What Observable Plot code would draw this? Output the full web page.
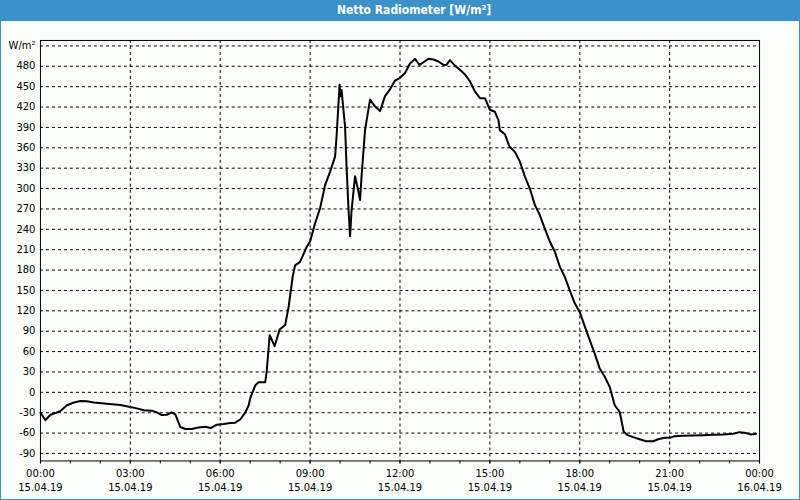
<!DOCTYPE html>
<html><head><meta charset="utf-8">
<script src="https://cdn.jsdelivr.net/npm/d3@7"></script>
<script src="https://cdn.jsdelivr.net/npm/@observablehq/plot@0.6"></script>
<style>
html,body{margin:0;padding:0;background:#fafdfa;}
#wrap{position:relative;width:800px;height:500px;box-sizing:border-box;border:1px solid #3c91c8;border-top:none;background:#fafdfa;overflow:hidden;}
#title{height:21px;background:#3c91c8;color:#fff;font:bold 12px "DejaVu Sans Condensed","DejaVu Sans",sans-serif;text-align:center;line-height:21px;padding-left:28px;}
#chart{position:absolute;left:-1px;top:21px;}
</style></head>
<body>
<div id="wrap"><div id="title">Netto Radiometer [W/m²]</div><div id="chart"></div></div>
<script>
const chartTitle = "Netto Radiometer [W/m²]";
const day = "2019-04-15";
const times = ["00:00","00:10","00:20","00:30","00:40","00:53","01:07","01:20","01:33","01:47","02:13","02:40","03:00","03:13","03:27","03:43","03:53","04:03","04:13","04:23","04:30","04:40","04:50","05:03","05:17","05:30","05:41","05:53","06:07","06:20","06:30","06:40","06:50","06:57","07:00","07:10","07:17","07:30","07:33","07:39","07:49","07:59","08:10","08:17","08:25","08:30","08:40","08:53","09:00","09:10","09:20","09:30","09:40","09:50","09:53","09:59","10:01","10:03","10:10","10:13","10:17","10:20","10:23","10:30","10:37","10:40","10:43","10:50","11:00","11:10","11:20","11:30","11:40","11:50","12:00","12:10","12:20","12:30","12:39","12:47","12:57","13:07","13:17","13:27","13:33","13:40","13:50","14:00","14:10","14:20","14:30","14:40","14:50","15:00","15:10","15:17","15:20","15:30","15:39","15:50","16:00","16:10","16:20","16:30","16:40","16:50","17:00","17:10","17:20","17:30","17:40","17:50","18:00","18:10","18:20","18:30","18:40","18:50","19:00","19:10","19:20","19:28","19:36","19:47","20:00","20:13","20:27","20:37","20:50","21:00","21:10","21:27","21:47","22:07","22:27","22:47","23:07","23:20","23:33","23:43","23:53"];
const values = [-30,-41,-33,-30.5,-27.5,-19,-15,-12.8,-13,-15,-16.7,-18.7,-21.6,-23.6,-26.5,-27,-29.5,-33.5,-33,-29.5,-32.5,-51,-54,-54,-51.6,-50.6,-52.6,-47.7,-46.7,-45.3,-44.7,-40,-30,-19,-9,10,15,15,30,84,68,92.5,99,126,170,187,192,214,222,249,271,305,325,347,377,453,436,445,391,332,268,230,268,318,295,283,318,386,431,421,414,436,446,459,463,470,484,491,482,486,491,490,487,482,482,489,481,475,468,458,443,433,433,416,413,401,386,380,362,354,340,318,300,276,261,241,222,207,185,170,150,131,118,97,77,57,35,23,8,-19,-29,-58,-63,-66,-69,-72,-72,-69,-67,-67,-64.5,-64,-63.5,-63,-62.5,-62,-61,-58.6,-60,-62,-61];
const xTickDates = ["2019-04-15T00:00","2019-04-15T03:00","2019-04-15T06:00","2019-04-15T09:00","2019-04-15T12:00","2019-04-15T15:00","2019-04-15T18:00","2019-04-15T21:00","2019-04-16T00:00"];
const xTickTimes = ["00:00","03:00","06:00","09:00","12:00","15:00","18:00","21:00","00:00"];
const xTickDays = ["15.04.19","15.04.19","15.04.19","15.04.19","15.04.19","15.04.19","15.04.19","15.04.19","16.04.19"];
const yTicks = [-90,-60,-30,0,30,60,90,120,150,180,210,240,270,300,330,360,390,420,450,480,510];
const yTickLabels = ["-90","-60","-30","0","30","60","90","120","150","180","210","240","270","300","330","360","390","420","450","480","W/m²"];

const toDate = s => new Date(s + ":00Z");
const data = times.map((t, i) => ({date: toDate(`${day}T${t}`), value: values[i]}));
const xDates = xTickDates.map(toDate);
const timeLabel = new Map(xDates.map((d, i) => [d.getTime(), xTickTimes[i]]));
const dayLabel = new Map(xDates.map((d, i) => [d.getTime(), xTickDays[i]]));
const yLabel = new Map(yTicks.map((v, i) => [v, yTickLabels[i]]));
const hours = d3.utcHours(xDates[0], new Date(xDates[8].getTime() + 1));

const chart = Plot.plot({
  width: 800, height: 479,
  marginLeft: 40, marginRight: 40, marginTop: 19, marginBottom: 39,
  style: {background: "transparent", fontFamily: "'DejaVu Sans', sans-serif", fontSize: "10px", color: "#000"},
  x: {type: "utc", domain: [xDates[0], xDates[8]]},
  y: {domain: [-101, 518]},
  marks: [
    Plot.ruleY(yTicks, {stroke: "#000", strokeDasharray: "3,3", strokeWidth: 1}),
    Plot.ruleX(xDates.slice(1, -1), {stroke: "#000", strokeDasharray: "3,3", strokeWidth: 1}),
    Plot.line(data, {x: "date", y: "value", stroke: "#000", strokeWidth: 2}),
    Plot.frame({stroke: "#000"}),
    Plot.axisY(yTicks, {tickSize: 0, tickPadding: 5, label: null, tickFormat: v => yLabel.get(v)}),
    Plot.axisX(hours, {tickSize: 3, label: null, tickFormat: () => ""}),
    Plot.axisX(xDates, {tickSize: 3, tickPadding: 6, label: null, tickFormat: d => timeLabel.get(d.getTime())}),
    Plot.axisX(xDates, {tickSize: 0, tickPadding: 23, label: null, tickFormat: d => dayLabel.get(d.getTime())})
  ]
});
document.getElementById("chart").appendChild(chart);
</script>
</body></html>
